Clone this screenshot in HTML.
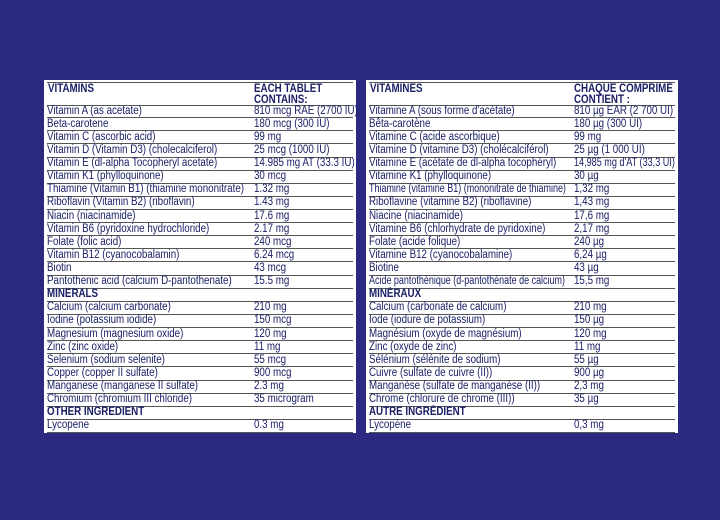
<!DOCTYPE html><html><head><meta charset="utf-8"><style>
body{margin:0;width:720px;height:520px;background:#2c2a80;overflow:hidden;font-family:"Liberation Sans",sans-serif;}
.t{position:absolute;top:80px;width:312px;height:353px;background:#fff;}
.r{position:absolute;left:3px;right:3px;height:13.12px;border-bottom:1px solid #555;color:#1b2066;font-size:11.5px;line-height:13px;white-space:nowrap}
.r span{position:absolute;top:0.5px;transform:scaleX(.85);transform-origin:0 0}
.b{font-weight:bold}
.h{position:absolute;left:3px;right:3px;top:2px;height:22px;border-top:1px solid #555;border-bottom:1px solid #555;color:#1b2066;font-size:11.5px;font-weight:bold;line-height:10.5px;white-space:nowrap}
.h span{position:absolute;top:1px;transform:scaleX(.85);transform-origin:0 0}
</style></head><body>
<div class="t" style="left:44px">
<div class="h"><span style="left:1px">VITAMINS</span><span style="left:207px">EACH TABLET<br>CONTAINS:</span></div>
<div class="r" style="top:24px"><span>Vitamin A (as acetate)</span><span style="left:207px">810 mcg RAE (2700 IU)</span></div>
<div class="r" style="top:37.1px"><span>Beta-carotene</span><span style="left:207px">180 mcg (300 IU)</span></div>
<div class="r" style="top:50.2px"><span>Vitamin C (ascorbic acid)</span><span style="left:207px">99 mg</span></div>
<div class="r" style="top:63.4px"><span>Vitamin D (Vitamin D3) (cholecalciferol)</span><span style="left:207px">25 mcg (1000 IU)</span></div>
<div class="r" style="top:76.5px"><span>Vitamin E (dl-alpha Tocopheryl acetate)</span><span style="left:207px">14.985 mg AT (33.3 IU)</span></div>
<div class="r" style="top:89.6px"><span>Vitamin K1 (phylloquinone)</span><span style="left:207px">30 mcg</span></div>
<div class="r" style="top:102.7px"><span>Thiamine (Vitamin B1) (thiamine mononitrate)</span><span style="left:207px">1.32 mg</span></div>
<div class="r" style="top:115.8px"><span>Riboflavin (Vitamin B2) (riboflavin)</span><span style="left:207px">1.43 mg</span></div>
<div class="r" style="top:129px"><span>Niacin (niacinamide)</span><span style="left:207px">17.6 mg</span></div>
<div class="r" style="top:142.1px"><span>Vitamin B6 (pyridoxine hydrochloride)</span><span style="left:207px">2.17 mg</span></div>
<div class="r" style="top:155.2px"><span>Folate (folic acid)</span><span style="left:207px">240 mcg</span></div>
<div class="r" style="top:168.3px"><span>Vitamin B12 (cyanocobalamin)</span><span style="left:207px">6.24 mcg</span></div>
<div class="r" style="top:181.4px"><span>Biotin</span><span style="left:207px">43 mcg</span></div>
<div class="r" style="top:194.6px"><span>Pantothenic acid (calcium D-pantothenate)</span><span style="left:207px">15.5 mg</span></div>
<div class="r b" style="top:207.7px"><span>MINERALS</span></div>
<div class="r" style="top:220.8px"><span>Calcium (calcium carbonate)</span><span style="left:207px">210 mg</span></div>
<div class="r" style="top:233.9px"><span>Iodine (potassium iodide)</span><span style="left:207px">150 mcg</span></div>
<div class="r" style="top:247px"><span>Magnesium (magnesium oxide)</span><span style="left:207px">120 mg</span></div>
<div class="r" style="top:260.2px"><span>Zinc (zinc oxide)</span><span style="left:207px">11 mg</span></div>
<div class="r" style="top:273.3px"><span>Selenium (sodium selenite)</span><span style="left:207px">55 mcg</span></div>
<div class="r" style="top:286.4px"><span>Copper (copper II sulfate)</span><span style="left:207px">900 mcg</span></div>
<div class="r" style="top:299.5px"><span>Manganese (manganese II sulfate)</span><span style="left:207px">2.3 mg</span></div>
<div class="r" style="top:312.6px"><span>Chromium (chromium III chloride)</span><span style="left:207px">35 microgram</span></div>
<div class="r b" style="top:325.8px"><span>OTHER INGREDIENT</span></div>
<div class="r" style="top:338.9px"><span>Lycopene</span><span style="left:207px">0.3 mg</span></div>
</div>
<div class="t" style="left:366px">
<div class="h"><span style="left:1px">VITAMINES</span><span style="left:205px">CHAQUE COMPRIMÉ<br>CONTIENT :</span></div>
<div class="r" style="top:24px"><span>Vitamine A (sous forme d'acétate)</span><span style="left:205px">810 µg EAR (2 700 UI)</span></div>
<div class="r" style="top:37.1px"><span>Bêta-carotène</span><span style="left:205px">180 µg (300 UI)</span></div>
<div class="r" style="top:50.2px"><span>Vitamine C (acide ascorbique)</span><span style="left:205px">99 mg</span></div>
<div class="r" style="top:63.4px"><span>Vitamine D (vitamine D3) (cholécalciférol)</span><span style="left:205px">25 µg (1 000 UI)</span></div>
<div class="r" style="top:76.5px"><span>Vitamine E (acétate de dl-alpha tocophéryl)</span><span style="left:205px;transform:scaleX(.79)">14,985 mg d'AT (33,3 UI)</span></div>
<div class="r" style="top:89.6px"><span>Vitamine K1 (phylloquinone)</span><span style="left:205px">30 µg</span></div>
<div class="r" style="top:102.7px"><span style="transform:scaleX(.78)">Thiamine (vitamine B1) (mononitrate de thiamine)</span><span style="left:205px">1,32 mg</span></div>
<div class="r" style="top:115.8px"><span>Riboflavine (vitamine B2) (riboflavine)</span><span style="left:205px">1,43 mg</span></div>
<div class="r" style="top:129px"><span>Niacine (niacinamide)</span><span style="left:205px">17,6 mg</span></div>
<div class="r" style="top:142.1px"><span>Vitamine B6 (chlorhydrate de pyridoxine)</span><span style="left:205px">2,17 mg</span></div>
<div class="r" style="top:155.2px"><span>Folate (acide folique)</span><span style="left:205px">240 µg</span></div>
<div class="r" style="top:168.3px"><span>Vitamine B12 (cyanocobalamine)</span><span style="left:205px">6,24 µg</span></div>
<div class="r" style="top:181.4px"><span>Biotine</span><span style="left:205px">43 µg</span></div>
<div class="r" style="top:194.6px"><span style="transform:scaleX(.78)">Acide pantothénique (d-pantothénate de calcium)</span><span style="left:205px">15,5 mg</span></div>
<div class="r b" style="top:207.7px"><span>MINÉRAUX</span></div>
<div class="r" style="top:220.8px"><span>Calcium (carbonate de calcium)</span><span style="left:205px">210 mg</span></div>
<div class="r" style="top:233.9px"><span>Iode (iodure de potassium)</span><span style="left:205px">150 µg</span></div>
<div class="r" style="top:247px"><span>Magnésium (oxyde de magnésium)</span><span style="left:205px">120 mg</span></div>
<div class="r" style="top:260.2px"><span>Zinc (oxyde de zinc)</span><span style="left:205px">11 mg</span></div>
<div class="r" style="top:273.3px"><span>Sélénium (sélénite de sodium)</span><span style="left:205px">55 µg</span></div>
<div class="r" style="top:286.4px"><span>Cuivre (sulfate de cuivre (II))</span><span style="left:205px">900 µg</span></div>
<div class="r" style="top:299.5px"><span>Manganèse (sulfate de manganèse (II))</span><span style="left:205px">2,3 mg</span></div>
<div class="r" style="top:312.6px"><span>Chrome (chlorure de chrome (III))</span><span style="left:205px">35 µg</span></div>
<div class="r b" style="top:325.8px"><span>AUTRE INGRÉDIENT</span></div>
<div class="r" style="top:338.9px"><span>Lycopène</span><span style="left:205px">0,3 mg</span></div>
</div>
</body></html>
